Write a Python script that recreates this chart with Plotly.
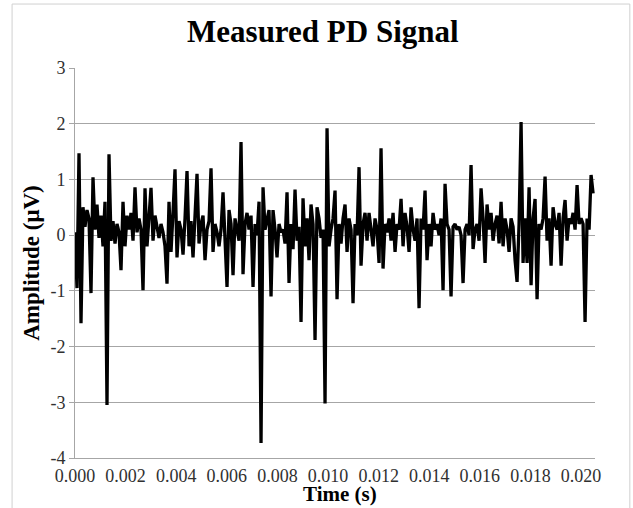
import plotly.graph_objects as go

# Sampling interval of the measured signal (s) and amplitudes (µV)
DT = 7.905e-5
AMPLITUDE = [
    0.05, -0.95, 1.47, -1.58, 0.5, 0.15, 0.45, 0.3, -1.04, 1.04,
    0.1, 0.55, -0.05, 0.35, -0.2, 0.6, -3.05, 1.45, -0.1, 0.25,
    -0.15, 0.2, 0.05, -0.63, 0.6, -0.2, 0.35, 0.1, 0.4, -0.1,
    0.86, 0.05, 0.3, 0.1, -0.99, 0.84, -0.2, 0.3, 0.85, -0.1,
    0.35, 0.15, -0.05, 0.2, 0.05, -0.2, -0.87, 0.6, -0.3, 0.4,
    1.18, -0.4, 0.25, 0.1, -0.35, 0.3, 1.15, -0.2, 0.25, -0.4,
    0.3, 1.1, -0.15, 0.2, 0.35, -0.45, 0.1, 0.25, 1.2, -0.3,
    0.2, 0.05, -0.2, 0.1, 0.77, -0.3, -0.93, 0.45, 0.2, -0.72,
    0.3, 0.1, -0.1, 1.67, -0.7, 0.2, 0.4, 0.1, 0.35, -0.93,
    0.2, 0.0, 0.6, -3.73, 0.86, 0.1, 0.3, 0.45, -1.1, 0.45,
    0.1, -0.4, 0.2, 0.05, 0.1, -0.15, 0.77, -0.86, 0.2, -0.25,
    0.82, -0.1, 0.15, -1.56, 0.66, -0.2, 0.3, -0.45, 0.55, 0.2,
    -1.88, 0.5, 0.3, -0.05, 0.1, -3.02, 1.92, -0.2, 0.1, 0.3,
    0.8, -1.15, 0.2, -0.15, 0.3, 0.55, -0.3, 0.3, 0.1, -1.22,
    0.2, 0.0, 1.22, -0.55, 0.2, 0.4, -0.1, 0.4, 0.1, -0.2,
    0.3, 0.1, -0.5, 1.56, -0.6, 0.2, 0.05, 0.3, -0.1, 0.4,
    -0.3, 0.2, 0.1, 0.65, -0.2, 0.4, 0.15, -0.3, 0.5, 0.1,
    -0.1, 0.3, -1.31, 0.3, 0.1, 0.8, -0.45, 0.2, -0.2, 0.4,
    0.1, 0.2, 0.0, 0.3, -0.99, 0.92, 0.2, 0.1, -1.1, 0.15,
    0.2, 0.1, 0.15, 0.0, -0.86, 0.1, 0.2, 0.0, 1.26, -0.25,
    0.1, 0.2, -0.1, 0.84, 0.3, -0.5, 0.55, 0.1, 0.4, -0.1,
    0.2, 0.35, -0.15, 0.6, -0.2, 0.3, 0.1, -0.3, 0.3, 0.15,
    -0.45, -0.84, 0.2, 2.03, -0.5, 0.3, -0.5, 0.86, -0.9, 0.3,
    0.65, -1.15, 0.2, 0.1, 0.3, 1.05, -0.1, 0.3, -0.55, 0.5,
    0.2, 0.1, 0.4, -0.55, 0.3, 0.63, -0.1, 0.3, 0.2, 0.4,
    0.1, 0.9, 0.2, 0.3, 0.2, -1.56, 0.3, 0.1, 1.08, 0.75,
]
X_TICKS = [0.000, 0.002, 0.004, 0.006, 0.008, 0.010, 0.012, 0.014, 0.016, 0.018, 0.020]
Y_TICKS = [-4, -3, -2, -1, 0, 1, 2, 3]
Y_TICK_TEXT = ["-4", "-3", "-2", "-1", "0", "1", "2", "3"]

FONT = "Liberation Serif, Times New Roman, serif"

fig = go.Figure(
    go.Scatter(
        y=AMPLITUDE, x0=0, dx=DT, mode="lines",
        line=dict(color="#000000", width=3.3),
        showlegend=False,
    )
)

fig.update_layout(
    width=633, height=508,
    margin=dict(l=75, r=38, t=68, b=50, autoexpand=False),
    paper_bgcolor="white", plot_bgcolor="white",
    font=dict(family=FONT, color="#303030", size=18),
    title=dict(
        text="<b>Measured PD Signal</b>",
        x=0.51, xanchor="center", y=1 - 31 / 508, yanchor="middle",
        font=dict(family=FONT, size=31, color="#000000"),
    ),
    shapes=[dict(
        type="rect", xref="paper", yref="paper",
        x0=-0.121, x1=1.067, y0=-0.2, y1=1.164,
        line=dict(color="#d0d0d0", width=1), layer="below",
    )],
    annotations=[dict(
        text="<b>Time (s)</b>", xref="paper", yref="paper",
        x=0.51, y=-0.092, xanchor="center", yanchor="middle",
        showarrow=False, font=dict(family=FONT, size=21, color="#000000"),
    )],
)

fig.update_xaxes(
    range=[0, 0.02055], automargin=False,
    tickvals=X_TICKS, tickformat=".3f",
    showgrid=False, zeroline=False,
    showline=True, linecolor="#a6a6a6", linewidth=1,
    ticks="", ticklabelstandoff=1, tickfont=dict(size=18, color="#303030"),
)
fig.update_yaxes(
    range=[-4, 3], automargin=False,
    tickvals=Y_TICKS, ticktext=Y_TICK_TEXT,
    showgrid=True, gridcolor="#a6a6a6", gridwidth=1,
    zeroline=False,
    showline=True, linecolor="#a6a6a6", linewidth=1,
    ticks="outside", ticklen=5, tickcolor="#a6a6a6",
    tickfont=dict(size=18, color="#303030"),
    title=dict(text="<b>Amplitude (μV)</b>", font=dict(size=23, color="#000000"), standoff=4),
)

fig.write_html(
    "out.html",
    config={"displayModeBar": False},
    post_script="document.body.style.margin='0';",
)
